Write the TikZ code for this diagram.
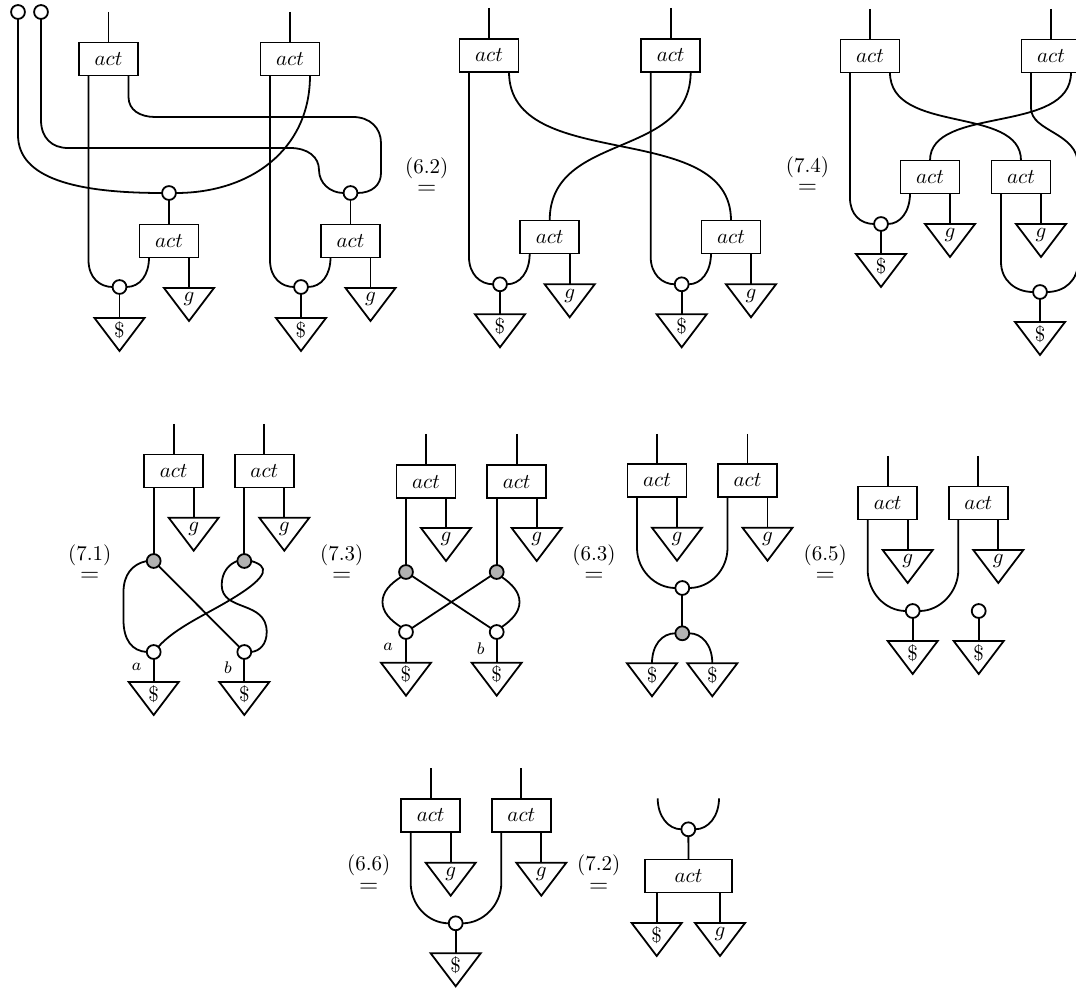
\documentclass[tikz,border=0pt]{standalone}
\usepackage{amsmath}
\usepackage{amssymb}
\usetikzlibrary{shapes.geometric}

\newcommand{\rw}[1]{$\stackrel{\raisebox{4pt}{$\textstyle(#1)$}}{\hbox{\fontsize{13}{13}\selectfont$=$}}$}

\tikzset{
  wire/.style={line width=0.85pt},
  lft/.style={shift={(-20,0)}},
  rgt/.style={shift={(20,0)}},
  actbox/.style={draw,line width=0.85pt,fill=white,minimum width=28pt,minimum height=15.7pt,inner sep=0pt,outer sep=0pt},
  widebox/.style={actbox,minimum width=41.6pt},
  whitedot/.style={circle,draw,line width=0.85pt,fill=white,minimum size=6.6pt,inner sep=0pt,outer sep=0pt},
  graydot/.style={whitedot,fill=black!30},
  counit/.style={isosceles triangle,isosceles triangle stretches,shape border rotate=-90,draw,line width=0.85pt,fill=white,
    minimum width=23.8pt,minimum height=15.7pt,inner sep=0pt,outer sep=0pt,anchor=lower side},
  eqlab/.style={anchor=base,inner sep=0pt},
  ptlab/.style={font=\footnotesize,inner sep=0pt}
}

\begin{document}
\begin{tikzpicture}[x=0.4758pt,y=-0.4758pt]
    \useasboundingbox (0,0) rectangle (1076,990);

    \node[whitedot] (f1) at (18,12) {};
    \node[whitedot] (f2) at (41,12) {};
    \node[actbox] (a1) at (108.5,59) {$act$};
    \node[actbox] (a2) at (290,59) {$act$};
    \node[actbox] (a3) at (169,241) {$act$};
    \node[actbox] (a4) at (350.5,241) {$act$};
    \node[whitedot] (wa1) at (169,193) {};
    \node[whitedot] (wa2) at (350.5,193) {};
    \node[whitedot] (wa3) at (119.5,287) {};
    \node[whitedot] (wa4) at (301,287) {};
    \node[counit] (ga1) at (189,288) {$g$};
    \node[counit] (ga2) at (370.5,288) {$g$};
    \node[counit] (sa1) at (119.5,318) {\$};
    \node[counit] (sa2) at (301,318) {\$};
    \coordinate (ta1) at (108.5,12);
    \coordinate (ta2) at (290,12);

    \draw[wire] (ta1) -- (a1.north);
    \draw[wire] (ta2) -- (a2.north);
    \draw[wire] ([lft]a1.south) -- ([lft]a1.south |- 0,260) .. controls (88.5,278) and (100,287) .. (wa3.west);
    \draw[wire] ([lft]a2.south) -- ([lft]a2.south |- 0,260) .. controls (270,278) and (281.5,287) .. (wa4.west);
    \draw[wire] ([rgt]a1.south) -- (128.5,97) .. controls (128.5,110) and (140,117) .. (155,117) -- (353,117) .. controls (370,117) and (381,128) .. (381,143) -- (381,173) .. controls (381,185) and (372,193) .. (wa2.east);
    \draw[wire] (f2) -- (41,120) .. controls (41,138) and (52,148) .. (68,148) -- (290,148) .. controls (308,148) and (319,157) .. (319,170) .. controls (319,183) and (330,193) .. (wa2.west);
    \draw[wire] (f1) -- (18,135) .. controls (18,178) and (75,193) .. (wa1.west);
    \draw[wire] ([rgt]a2.south) .. controls (310,150) and (250,193) .. (wa1.east);
    \draw[wire] (wa1) -- (a3.north);
    \draw[wire] (wa2) -- (a4.north);
    \draw[wire] ([lft]a3.south) .. controls (149,275) and (140,287) .. (wa3.east);
    \draw[wire] ([lft]a4.south) .. controls (330.5,275) and (321.5,287) .. (wa4.east);
    \draw[wire] ([rgt]a3.south) -- (ga1.lower side);
    \draw[wire] ([rgt]a4.south) -- (ga2.lower side);
    \draw[wire] (wa3) -- (sa1.lower side);
    \draw[wire] (wa4) -- (sa2.lower side);

    \node[eqlab] (eq1) at (426.7,195) {\rw{6.2}};

    \node[actbox] (b1) at (489,55.3) {$act$};
    \node[actbox] (b2) at (670.7,55.3) {$act$};
    \node[actbox] (b3) at (549.7,237) {$act$};
    \node[actbox] (b4) at (731,237) {$act$};
    \node[whitedot] (wb1) at (500,284.3) {};
    \node[whitedot] (wb2) at (681.7,284.3) {};
    \node[counit] (gb1) at (569.7,284.3) {$g$};
    \node[counit] (gb2) at (751,284.3) {$g$};
    \node[counit] (sb1) at (500,314.3) {\$};
    \node[counit] (sb2) at (681.7,314.3) {\$};
    \coordinate (tb1) at (489,8);
    \coordinate (tb2) at (670.7,8);

    \draw[wire] (tb1) -- (b1.north);
    \draw[wire] (tb2) -- (b2.north);
    \draw[wire] ([lft]b1.south) -- (469,257) .. controls (469,274) and (480,284.3) .. (wb1.west);
    \draw[wire] ([lft]b2.south) -- (650.7,257) .. controls (650.7,274) and (662,284.3) .. (wb2.west);
    \draw[wire] ([rgt]b1.south) .. controls (509,175) and (731,117) .. (b4.north);
    \draw[wire] ([rgt]b2.south) .. controls (690.7,160) and (549.7,131) .. (b3.north);
    \draw[wire] ([lft]b3.south) .. controls (529.7,272) and (520,284.3) .. (wb1.east);
    \draw[wire] ([lft]b4.south) .. controls (711,272) and (701,284.3) .. (wb2.east);
    \draw[wire] ([rgt]b3.south) -- (gb1.lower side);
    \draw[wire] ([rgt]b4.south) -- (gb2.lower side);
    \draw[wire] (wb1) -- (sb1.lower side);
    \draw[wire] (wb2) -- (sb2.lower side);

    \node[eqlab] (eq2) at (807.5,194) {\rw{7.4}};

    \node[actbox] (c1) at (870,56) {$act$};
    \node[actbox] (c2) at (1051,56) {$act$};
    \node[actbox] (c3) at (930,177) {$act$};
    \node[actbox] (c4) at (1021,177) {$act$};
    \node[whitedot] (wc1) at (881,224) {};
    \node[whitedot] (wc2) at (1040,292) {};
    \node[counit] (gc1) at (950,224) {$g$};
    \node[counit] (gc2) at (1041,224) {$g$};
    \node[counit] (sc1) at (881,254) {\$};
    \node[counit] (sc2) at (1040,322) {\$};
    \coordinate (tc1) at (870,9);
    \coordinate (tc2) at (1051,9);

    \draw[wire] (tc1) -- (c1.north);
    \draw[wire] (tc2) -- (c2.north);
    \draw[wire] ([lft]c1.south) -- (850,198) .. controls (850,214) and (860,224) .. (wc1.west);
    \draw[wire] ([rgt]c1.south) .. controls (890,135) and (1021,105) .. (c4.north);
    \draw[wire] ([rgt]c2.south) .. controls (1071,135) and (930,105) .. (c3.north);
    \draw[wire] ([lft]c2.south) -- (1031,108) .. controls (1031,132) and (1078,132) .. (1078,165) -- (1078,262) .. controls (1078,280) and (1065,292) .. (wc2.east);
    \draw[wire] ([lft]c3.south) .. controls (910,212) and (900,224) .. (wc1.east);
    \draw[wire] ([lft]c4.south) -- (1001,262) .. controls (1001,280) and (1015,292) .. (wc2.west);
    \draw[wire] ([rgt]c3.south) -- (gc1.lower side);
    \draw[wire] ([rgt]c4.south) -- (gc2.lower side);
    \draw[wire] (wc1) -- (sc1.lower side);
    \draw[wire] (wc2) -- (sc2.lower side);

    \node[eqlab] (eq3) at (89.7,582) {\rw{7.1}};

    \node[actbox] (d1) at (173.7,471) {$act$};
    \node[actbox] (d2) at (264.3,471) {$act$};
    \node[graydot] (xd1) at (153.7,561) {};
    \node[graydot] (xd2) at (244.3,561) {};
    \node[whitedot] (wd1) at (153.7,652) {};
    \node[whitedot] (wd2) at (244.3,652) {};
    \node[counit] (gd1) at (193.7,517.7) {$g$};
    \node[counit] (gd2) at (284.3,517.7) {$g$};
    \node[counit] (sd1) at (153.7,682) {\$};
    \node[counit] (sd2) at (244.3,682) {\$};
    \node[ptlab] (la) at (136.7,666.7) {$a$};
    \node[ptlab] (lb) at (228,668) {$b$};
    \coordinate (td1) at (173.7,424);
    \coordinate (td2) at (264.3,424);

    \draw[wire] (td1) -- (d1.north);
    \draw[wire] (td2) -- (d2.north);
    \draw[wire] ([lft]d1.south) -- (xd1);
    \draw[wire] ([lft]d2.south) -- (xd2);
    \draw[wire] ([rgt]d1.south) -- (gd1.lower side);
    \draw[wire] ([rgt]d2.south) -- (gd2.lower side);
    \draw[wire] (xd1) -- (wd2);
    \draw[wire] (xd1.west) .. controls (132,564) and (123.5,575) .. (123.5,592) -- (123.5,620) .. controls (123.5,640) and (132,651) .. (wd1.west);
    \draw[wire] (xd2.west) .. controls (229,564) and (221.7,572) .. (221.7,585) .. controls (221.7,612) and (266.7,600) .. (266.7,632) .. controls (266.7,644) and (260,651) .. (wd2.east);
    \draw[wire] (xd2.east) .. controls (268,566) and (272,575) .. (230,600) .. controls (205,615) and (175,628) .. (wd1);
    \draw[wire] (wd1) -- (sd1.lower side);
    \draw[wire] (wd2) -- (sd2.lower side);

    \node[eqlab] (eq4) at (341.7,582) {\rw{7.3}};

    \node[actbox] (e1) at (426,481.7) {$act$};
    \node[actbox] (e2) at (516.7,481.7) {$act$};
    \node[graydot] (xe1) at (406,572) {};
    \node[graydot] (xe2) at (496.7,572) {};
    \node[whitedot] (we1) at (406,632) {};
    \node[whitedot] (we2) at (496.7,632) {};
    \node[counit] (ge1) at (446,528) {$g$};
    \node[counit] (ge2) at (536.7,528) {$g$};
    \node[counit] (se1) at (406,662.7) {\$};
    \node[counit] (se2) at (496.7,662.7) {\$};
    \node[ptlab] (la2) at (388,647) {$a$};
    \node[ptlab] (lb2) at (480.7,648.7) {$b$};
    \coordinate (te1) at (426,434);
    \coordinate (te2) at (516.7,434);

    \draw[wire] (te1) -- (e1.north);
    \draw[wire] (te2) -- (e2.north);
    \draw[wire] ([lft]e1.south) -- (xe1);
    \draw[wire] ([lft]e2.south) -- (xe2);
    \draw[wire] ([rgt]e1.south) -- (ge1.lower side);
    \draw[wire] ([rgt]e2.south) -- (ge2.lower side);
    \draw[wire] (xe1) -- (we2);
    \draw[wire] (xe2) -- (we1);
    \draw[wire] (xe1.south west) .. controls (390,584) and (382.5,592) .. (382.5,602) .. controls (382.5,612) and (390,620) .. (we1.north west);
    \draw[wire] (xe2.south east) .. controls (512,584) and (519.5,592) .. (519.5,602) .. controls (519.5,612) and (512,620) .. (we2.north east);
    \draw[wire] (we1) -- (se1.lower side);
    \draw[wire] (we2) -- (se2.lower side);

    \node[eqlab] (eq5) at (594,582) {\rw{6.3}};

    \node[actbox] (h1) at (657,480.3) {$act$};
    \node[actbox] (h2) at (747.5,480.3) {$act$};
    \node[whitedot] (wh1) at (682.3,588) {};
    \node[graydot] (xh1) at (682.3,633.3) {};
    \node[counit] (gh1) at (677,527.7) {$g$};
    \node[counit] (gh2) at (767.5,527.7) {$g$};
    \node[counit] (sh1) at (652,663.3) {\$};
    \node[counit] (sh2) at (712.3,663.3) {\$};
    \coordinate (th1) at (657,434);
    \coordinate (th2) at (747.5,434);

    \draw[wire] (th1) -- (h1.north);
    \draw[wire] (th2) -- (h2.north);
    \draw[wire] ([lft]h1.south) -- (637,548) .. controls (637,570) and (655,588) .. (wh1.west);
    \draw[wire] ([lft]h2.south) -- (727.5,548) .. controls (727.5,570) and (710,588) .. (wh1.east);
    \draw[wire] ([rgt]h1.south) -- (gh1.lower side);
    \draw[wire] ([rgt]h2.south) -- (gh2.lower side);
    \draw[wire] (wh1) -- (xh1);
    \draw[wire] (xh1.west) .. controls (662,633.3) and (652,645) .. (sh1.lower side);
    \draw[wire] (xh1.east) .. controls (702,633.3) and (712.3,645) .. (sh2.lower side);

    \node[eqlab] (eq6) at (825.3,582) {\rw{6.5}};

    \node[actbox] (k1) at (887.7,503) {$act$};
    \node[actbox] (k2) at (978.3,503) {$act$};
    \node[whitedot] (wk1) at (912.7,611) {};
    \node[whitedot] (wk2) at (978.7,611) {};
    \node[counit] (gk1) at (907.7,550) {$g$};
    \node[counit] (gk2) at (998.3,550) {$g$};
    \node[counit] (sk1) at (912.7,641) {\$};
    \node[counit] (sk2) at (978.7,641) {\$};
    \coordinate (tk1) at (887.7,456);
    \coordinate (tk2) at (978.3,456);

    \draw[wire] (tk1) -- (k1.north);
    \draw[wire] (tk2) -- (k2.north);
    \draw[wire] ([lft]k1.south) -- (867.7,570) .. controls (867.7,592) and (885,611) .. (wk1.west);
    \draw[wire] ([lft]k2.south) -- (958.3,570) .. controls (958.3,592) and (940,611) .. (wk1.east);
    \draw[wire] ([rgt]k1.south) -- (gk1.lower side);
    \draw[wire] ([rgt]k2.south) -- (gk2.lower side);
    \draw[wire] (wk1) -- (sk1.lower side);
    \draw[wire] (wk2) -- (sk2.lower side);

    \node[eqlab] (eq7) at (368.7,892) {\rw{6.6}};

    \node[actbox] (m1) at (430.7,815.3) {$act$};
    \node[actbox] (m2) at (521.3,815.3) {$act$};
    \node[whitedot] (wm1) at (455.7,923.3) {};
    \node[counit] (gm1) at (450.7,862.7) {$g$};
    \node[counit] (gm2) at (541.3,862.7) {$g$};
    \node[counit] (sm1) at (455.7,953.3) {\$};
    \coordinate (tm1) at (430.7,768);
    \coordinate (tm2) at (521.3,768);

    \draw[wire] (tm1) -- (m1.north);
    \draw[wire] (tm2) -- (m2.north);
    \draw[wire] ([lft]m1.south) -- (410.7,883) .. controls (410.7,905) and (428,923.3) .. (wm1.west);
    \draw[wire] ([lft]m2.south) -- (501.3,883) .. controls (501.3,905) and (483,923.3) .. (wm1.east);
    \draw[wire] ([rgt]m1.south) -- (gm1.lower side);
    \draw[wire] ([rgt]m2.south) -- (gm2.lower side);
    \draw[wire] (wm1) -- (sm1.lower side);

    \node[eqlab] (eq8) at (598.7,892) {\rw{7.2}};

    \node[widebox] (n1) at (688.5,876) {$act$};
    \node[whitedot] (wn1) at (688.3,829.3) {};
    \node[counit] (sn1) at (656.7,923) {\$};
    \node[counit] (gn1) at (720,923) {$g$};
    \coordinate (un1) at (657.7,798.3);
    \coordinate (un2) at (719,798.3);

    \draw[wire] (un1) .. controls (657.7,816) and (668,829.3) .. (wn1.west);
    \draw[wire] (un2) .. controls (719,816) and (708.5,829.3) .. (wn1.east);
    \draw[wire] (wn1) -- (n1.north);
    \draw[wire] (n1.south -| sn1.lower side) -- (sn1.lower side);
    \draw[wire] (n1.south -| gn1.lower side) -- (gn1.lower side);

\end{tikzpicture}
\end{document}
